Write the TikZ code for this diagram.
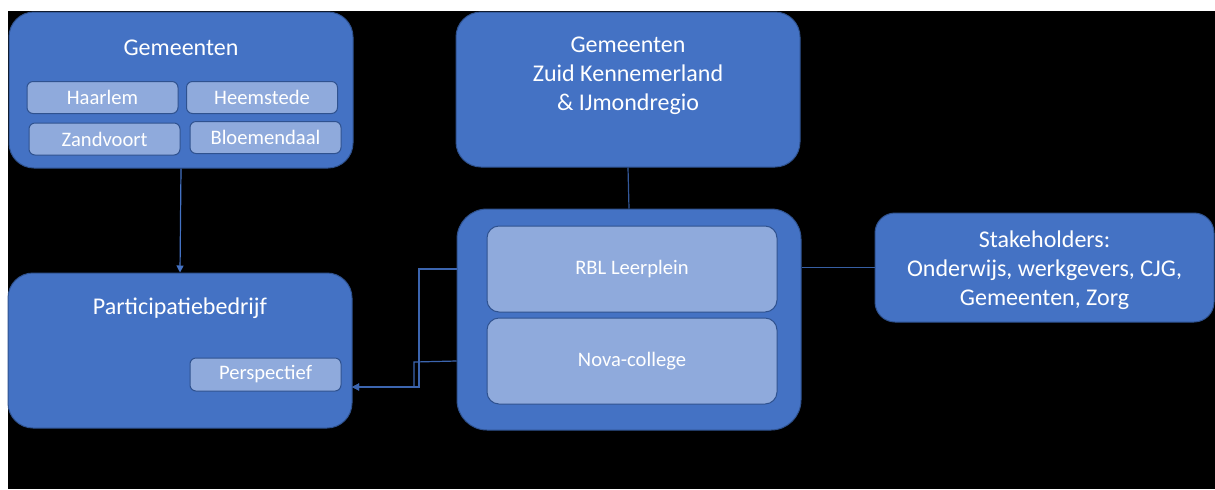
\documentclass[tikz,border=0pt]{standalone}
\usepackage{fontspec}
\setmainfont{Carlito}
\usetikzlibrary{arrows.meta}
\definecolor{mainblue}{HTML}{4472C4}
\definecolor{lightblue}{HTML}{8FAADC}
\definecolor{edgeblue}{HTML}{2F528F}
\tikzset{
  bigbox/.style={draw=edgeblue, line width=0.5pt, fill=mainblue, rounded corners=12.5pt, inner sep=0pt},
  subbox/.style={draw=edgeblue, line width=0.5pt, fill=lightblue, rounded corners=3pt, inner sep=0pt,
    text=white, font=\fontsize{10.3}{12.5}\selectfont},
  title/.style={text=white, font=\fontsize{12}{14.5}\selectfont, align=center, inner sep=0pt},
  conn/.style={draw=mainblue, line width=0.6pt},
  tipconn/.style={conn, -{Triangle[width=3.5pt,length=3.5pt]}}
}
\begin{document}
\begin{tikzpicture}[x=0.5pt,y=-0.5pt]
\useasboundingbox (0,0) rectangle (1215,489);
\fill[white] (0,0) rectangle (1215,489);
\fill[black] (8,11) rectangle (1215,489);

% Gemeenten (left)
\node[bigbox, minimum width=172pt, minimum height=78pt] (gem) at (181,90) {};
\node[title] (gemt) at (181,48) {Gemeenten};
\node[subbox, minimum width=75.5pt, minimum height=16pt] (haarlem) at (102.5,97.5) {Haarlem};
\node[subbox, minimum width=75.5pt, minimum height=16pt] (heem) at (262,97.5) {Heemstede};
\node[subbox, minimum width=75.5pt, minimum height=16pt] (zand) at (104.5,139) {Zandvoort};
\node[subbox, minimum width=75.5pt, minimum height=16pt] (bloem) at (265.5,137.5) {Bloemendaal};

% Participatiebedrijf
\node[bigbox, minimum width=172pt, minimum height=77.5pt] (part) at (180,350.5) {};
\node[title] (partt) at (180,308) {Participatiebedrijf};
\node[subbox, minimum width=75.5pt, minimum height=16.5pt] (persp) at (265.5,374.5) {Perspectief};

% Gemeenten Zuid Kennemerland
\node[bigbox, minimum width=172pt, minimum height=77.5pt] (zuid) at (628,89.5) {};
\node[title] (zuidt) at (628,76) {Gemeenten\\Zuid Kennemerland\\\&\ IJmondregio};

% Middle box
\node[bigbox, rounded corners=15pt, minimum width=172pt, minimum height=110.5pt] (mid) at (629,319.5) {};
\node[subbox, rounded corners=6pt, minimum width=145pt, minimum height=43pt] (rbl) at (632,269) {RBL Leerplein};
\node[subbox, rounded corners=6pt, minimum width=145pt, minimum height=43pt] (nova) at (632,361) {Nova-college};

% Stakeholders
\node[bigbox, rounded corners=10pt, minimum width=169.5pt, minimum height=54.5pt] (stake) at (1044.5,267.5) {};
\node[title] (staket) at (1044.5,270) {Stakeholders:\\Onderwijs, werkgevers, CJG,\\Gemeenten, Zorg};

% connectors
\draw[tipconn] (gem.south) -- (part.north);
\draw[conn, draw=edgeblue!80!mainblue] (zuid.south) -- (mid.north);
\draw[conn, draw=edgeblue!60!mainblue] (stake.west) -- (stake.west -| mid.east);
\coordinate (pin) at (352,387);
\draw[tipconn, draw=edgeblue!40!mainblue] (mid.west |- rbl) -- (419,269) -- (419,387) -- (pin);
\draw[tipconn, draw=edgeblue!40!mainblue] (mid.west |- nova) -- (414,362) -- (414,387) -- (pin);
\end{tikzpicture}
\end{document}
